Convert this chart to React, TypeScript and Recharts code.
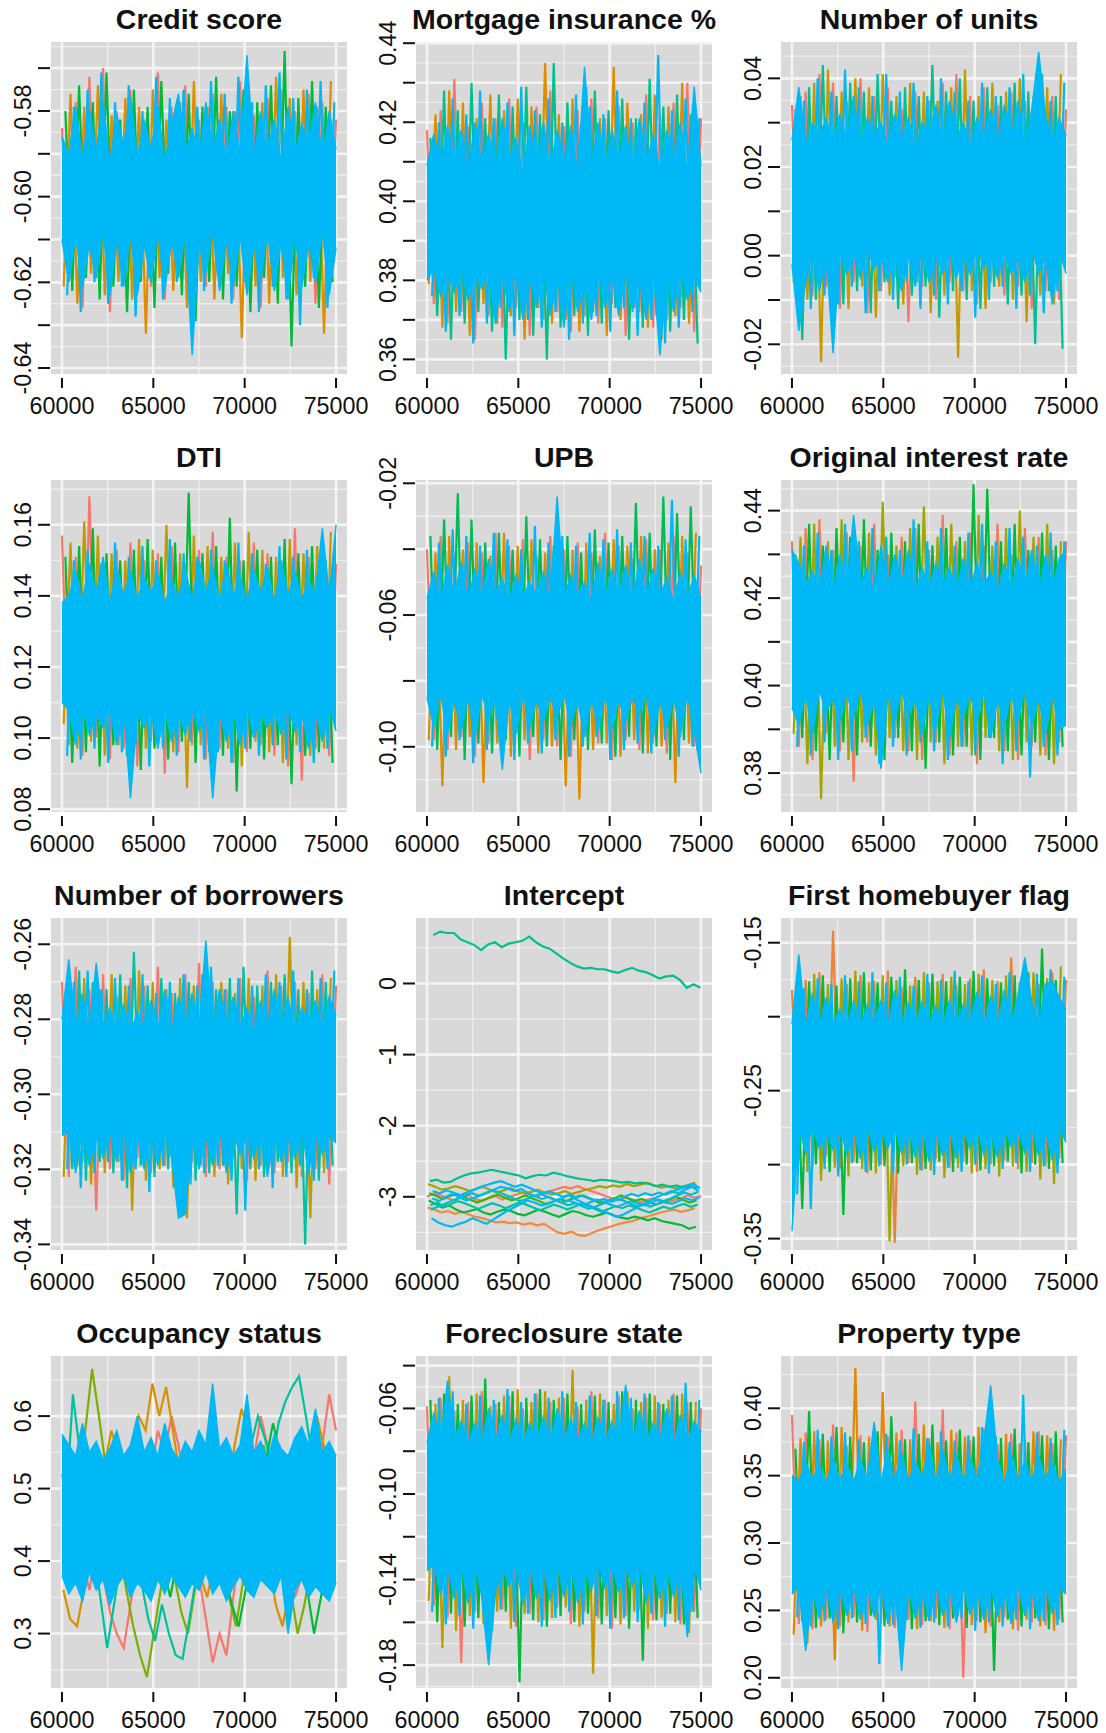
import { ComposedChart, Line, Area, XAxis, YAxis, CartesianGrid } from "recharts";

// thinned MCMC draws, every 375 iterations
const iterations = Array.from({ length: 41 }, (_, i) => 60000 + i * 375);
const xTicks = [60000, 65000, 70000, 75000];
const xGrid = [60000, 62500, 65000, 67500, 70000, 72500, 75000];

// ---- Credit score
const creditHi = [-0.586,-0.590,-0.579,-0.591,-0.580,-0.589,-0.578,-0.592,-0.581,-0.588,-0.577,-0.591,-0.582,-0.589,-0.579,-0.592,-0.583,-0.576,-0.590,-0.584,-0.591,-0.578,-0.589,-0.582,-0.592,-0.580,-0.590,-0.567,-0.591,-0.580,-0.589,-0.582,-0.592,-0.579,-0.590,-0.583,-0.588,-0.578,-0.591,-0.580,-0.589];
const creditLo = [-0.610,-0.620,-0.609,-0.621,-0.611,-0.619,-0.608,-0.623,-0.610,-0.621,-0.609,-0.623,-0.611,-0.620,-0.608,-0.622,-0.610,-0.619,-0.609,-0.637,-0.611,-0.618,-0.608,-0.622,-0.610,-0.621,-0.609,-0.623,-0.611,-0.620,-0.608,-0.622,-0.610,-0.624,-0.609,-0.621,-0.611,-0.620,-0.608,-0.623,-0.612];
const creditA = [-0.584,-0.620,-0.578,-0.626,-0.572,-0.619,-0.570,-0.627,-0.580,-0.618,-0.575,-0.622,-0.583,-0.621,-0.571,-0.624,-0.579,-0.618,-0.574,-0.628,-0.582,-0.621,-0.576,-0.619,-0.579,-0.624,-0.573,-0.620,-0.581,-0.626,-0.577,-0.619,-0.575,-0.623,-0.580,-0.618,-0.576,-0.625,-0.578,-0.620,-0.582];
const creditB = [-0.621,-0.576,-0.625,-0.579,-0.618,-0.574,-0.623,-0.581,-0.620,-0.577,-0.624,-0.579,-0.632,-0.575,-0.619,-0.582,-0.622,-0.578,-0.626,-0.573,-0.620,-0.579,-0.624,-0.576,-0.618,-0.580,-0.633,-0.574,-0.621,-0.578,-0.625,-0.572,-0.619,-0.577,-0.623,-0.575,-0.620,-0.579,-0.632,-0.573,-0.618];
const creditC = [-0.580,-0.622,-0.574,-0.619,-0.578,-0.624,-0.571,-0.621,-0.582,-0.627,-0.575,-0.620,-0.579,-0.626,-0.573,-0.618,-0.581,-0.623,-0.576,-0.629,-0.579,-0.620,-0.572,-0.624,-0.580,-0.621,-0.575,-0.627,-0.578,-0.619,-0.574,-0.625,-0.566,-0.635,-0.577,-0.621,-0.573,-0.626,-0.579,-0.620,-0.575];
const creditD = [-0.623,-0.579,-0.627,-0.575,-0.620,-0.571,-0.625,-0.578,-0.621,-0.574,-0.628,-0.580,-0.619,-0.572,-0.624,-0.577,-0.620,-0.575,-0.626,-0.579,-0.622,-0.573,-0.618,-0.576,-0.625,-0.572,-0.620,-0.578,-0.627,-0.574,-0.621,-0.571,-0.624,-0.577,-0.630,-0.575,-0.619,-0.573,-0.626,-0.578,-0.621];

// ---- Mortgage insurance %
const mortHi = [0.409,0.417,0.408,0.419,0.410,0.418,0.407,0.420,0.409,0.417,0.408,0.421,0.410,0.416,0.407,0.419,0.409,0.420,0.408,0.418,0.410,0.419,0.407,0.434,0.409,0.420,0.408,0.418,0.410,0.419,0.407,0.421,0.409,0.417,0.408,0.418,0.410,0.420,0.407,0.429,0.409];
const mortLo = [0.380,0.383,0.376,0.382,0.377,0.384,0.375,0.381,0.378,0.383,0.369,0.382,0.372,0.384,0.370,0.381,0.373,0.383,0.371,0.382,0.368,0.384,0.372,0.381,0.370,0.383,0.373,0.382,0.371,0.384,0.372,0.381,0.370,0.383,0.361,0.382,0.372,0.384,0.375,0.381,0.377];
const mortA = [0.418,0.374,0.423,0.369,0.431,0.372,0.419,0.365,0.425,0.371,0.421,0.368,0.426,0.373,0.420,0.366,0.424,0.370,0.428,0.372,0.419,0.367,0.423,0.371,0.426,0.369,0.421,0.374,0.424,0.366,0.420,0.372,0.427,0.368,0.422,0.370,0.425,0.373,0.430,0.367,0.421];
const mortB = [0.379,0.422,0.368,0.428,0.372,0.425,0.366,0.421,0.374,0.427,0.369,0.423,0.371,0.426,0.365,0.424,0.373,0.435,0.369,0.422,0.370,0.426,0.367,0.429,0.372,0.421,0.366,0.434,0.370,0.425,0.373,0.422,0.368,0.427,0.365,0.424,0.371,0.430,0.369,0.423,0.372];
const mortC = [0.416,0.371,0.428,0.365,0.423,0.369,0.430,0.372,0.421,0.367,0.427,0.360,0.424,0.370,0.429,0.366,0.422,0.360,0.435,0.368,0.425,0.371,0.420,0.366,0.428,0.369,0.423,0.373,0.426,0.365,0.421,0.368,0.431,0.371,0.424,0.367,0.427,0.370,0.422,0.364,0.420];
const mortD = [0.376,0.420,0.367,0.426,0.371,0.422,0.364,0.428,0.369,0.421,0.373,0.425,0.366,0.429,0.370,0.423,0.368,0.426,0.372,0.420,0.365,0.427,0.369,0.424,0.371,0.422,0.367,0.428,0.373,0.421,0.366,0.425,0.370,0.437,0.364,0.423,0.368,0.426,0.372,0.421,0.369];

// ---- Number of units
const unitsHi = [0.026,0.038,0.025,0.030,0.027,0.031,0.025,0.032,0.026,0.036,0.024,0.031,0.027,0.030,0.025,0.032,0.026,0.031,0.024,0.030,0.027,0.034,0.025,0.035,0.026,0.030,0.024,0.031,0.027,0.033,0.025,0.034,0.026,0.035,0.024,0.033,0.046,0.032,0.025,0.031,0.027];
const unitsLo = [-0.002,-0.017,-0.006,0.001,-0.008,0.000,-0.022,0.001,-0.004,0.000,-0.005,0.002,-0.003,0.000,-0.006,0.001,-0.008,0.000,-0.007,0.002,-0.006,0.000,-0.004,0.001,-0.005,0.000,-0.004,0.002,-0.003,0.000,-0.005,0.001,-0.004,0.000,-0.006,0.002,-0.004,0.000,-0.011,0.001,-0.004];
const unitsA = [0.034,-0.004,0.037,-0.009,0.041,-0.007,0.039,-0.012,0.035,-0.006,0.040,-0.013,0.036,-0.008,0.038,-0.005,0.033,-0.015,0.037,-0.007,0.035,-0.010,0.039,-0.006,0.041,-0.008,0.036,-0.011,0.038,-0.006,0.034,-0.009,0.037,-0.007,0.035,-0.012,0.039,-0.008,0.036,-0.010,0.033];
const unitsB = [-0.006,0.036,-0.010,0.039,-0.024,0.042,-0.008,0.037,-0.012,0.040,-0.007,0.038,-0.014,0.041,-0.009,0.036,-0.011,0.039,-0.006,0.037,-0.013,0.035,-0.009,0.038,-0.023,0.042,-0.008,0.036,-0.012,0.039,-0.007,0.037,-0.010,0.040,-0.015,0.036,-0.009,0.038,-0.011,0.041,-0.006];
const unitsC = [0.033,-0.019,0.038,-0.010,0.043,-0.007,0.036,-0.011,0.039,-0.008,0.037,-0.013,0.041,-0.006,0.035,-0.012,0.038,-0.009,0.036,-0.007,0.043,-0.014,0.037,-0.008,0.040,-0.010,0.035,-0.012,0.038,-0.007,0.036,-0.011,0.039,-0.009,0.037,-0.020,0.041,-0.008,0.036,-0.021,0.034];
const unitsD = [-0.008,0.035,-0.012,0.040,-0.009,0.037,-0.011,0.042,-0.007,0.038,-0.013,0.036,-0.008,0.041,-0.010,0.037,-0.006,0.039,-0.012,0.036,-0.009,0.040,-0.011,0.037,-0.008,0.035,-0.014,0.039,-0.010,0.036,-0.007,0.038,-0.012,0.041,-0.009,0.037,-0.013,0.035,-0.008,0.039,-0.006];

// ---- DTI
const dtiHi = [0.138,0.140,0.147,0.139,0.149,0.141,0.151,0.138,0.148,0.140,0.147,0.139,0.145,0.141,0.146,0.138,0.144,0.140,0.147,0.139,0.150,0.141,0.148,0.138,0.149,0.140,0.145,0.139,0.147,0.141,0.148,0.138,0.150,0.140,0.147,0.139,0.144,0.141,0.159,0.140,0.160];
const dtiLo = [0.110,0.108,0.098,0.109,0.101,0.107,0.103,0.108,0.098,0.109,0.083,0.107,0.103,0.108,0.097,0.109,0.099,0.107,0.101,0.108,0.102,0.109,0.083,0.107,0.099,0.108,0.098,0.109,0.100,0.107,0.103,0.108,0.101,0.109,0.102,0.107,0.097,0.108,0.099,0.109,0.102];
const dtiA = [0.157,0.098,0.151,0.095,0.168,0.100,0.149,0.094,0.153,0.097,0.155,0.092,0.150,0.099,0.152,0.090,0.154,0.096,0.149,0.098,0.153,0.094,0.158,0.097,0.151,0.093,0.150,0.096,0.155,0.098,0.152,0.095,0.150,0.092,0.159,0.088,0.151,0.097,0.153,0.095,0.149];
const dtiB = [0.104,0.155,0.097,0.161,0.099,0.157,0.095,0.152,0.098,0.150,0.093,0.156,0.097,0.153,0.100,0.160,0.096,0.152,0.086,0.157,0.098,0.154,0.094,0.151,0.097,0.155,0.092,0.158,0.099,0.153,0.096,0.151,0.093,0.156,0.098,0.152,0.095,0.154,0.097,0.158,0.101];
const dtiC = [0.151,0.093,0.154,0.096,0.159,0.092,0.152,0.098,0.150,0.095,0.153,0.091,0.156,0.097,0.151,0.094,0.155,0.099,0.169,0.093,0.152,0.096,0.154,0.095,0.162,0.085,0.150,0.097,0.153,0.094,0.151,0.098,0.156,0.087,0.152,0.095,0.154,0.096,0.150,0.093,0.153];
const dtiD = [0.095,0.150,0.094,0.153,0.097,0.149,0.093,0.155,0.096,0.151,0.098,0.154,0.092,0.150,0.097,0.156,0.095,0.152,0.099,0.151,0.094,0.153,0.096,0.150,0.093,0.155,0.097,0.152,0.095,0.149,0.098,0.154,0.094,0.151,0.096,0.153,0.093,0.150,0.097,0.152,0.085];

// ---- UPB
const upbHi = [-0.055,-0.047,-0.056,-0.045,-0.054,-0.044,-0.056,-0.046,-0.055,-0.043,-0.054,-0.049,-0.056,-0.048,-0.055,-0.050,-0.054,-0.047,-0.056,-0.024,-0.055,-0.048,-0.054,-0.050,-0.056,-0.044,-0.055,-0.046,-0.054,-0.045,-0.056,-0.043,-0.055,-0.046,-0.054,-0.049,-0.056,-0.047,-0.055,-0.048,-0.055];
const upbLo = [-0.085,-0.094,-0.084,-0.096,-0.086,-0.095,-0.085,-0.097,-0.084,-0.091,-0.086,-0.107,-0.085,-0.096,-0.084,-0.094,-0.086,-0.092,-0.085,-0.091,-0.084,-0.093,-0.086,-0.097,-0.085,-0.095,-0.084,-0.094,-0.086,-0.092,-0.085,-0.090,-0.084,-0.097,-0.086,-0.094,-0.085,-0.096,-0.084,-0.095,-0.108];
const upbA = [-0.040,-0.098,-0.036,-0.101,-0.042,-0.097,-0.038,-0.103,-0.041,-0.099,-0.035,-0.102,-0.039,-0.096,-0.037,-0.104,-0.042,-0.098,-0.036,-0.100,-0.040,-0.103,-0.038,-0.097,-0.041,-0.099,-0.035,-0.104,-0.039,-0.098,-0.043,-0.101,-0.037,-0.099,-0.040,-0.102,-0.036,-0.097,-0.041,-0.100,-0.045];
const upbB = [-0.098,-0.041,-0.112,-0.036,-0.101,-0.040,-0.097,-0.038,-0.111,-0.042,-0.099,-0.035,-0.103,-0.039,-0.098,-0.037,-0.102,-0.041,-0.100,-0.036,-0.112,-0.040,-0.116,-0.038,-0.101,-0.042,-0.099,-0.037,-0.103,-0.039,-0.098,-0.036,-0.102,-0.040,-0.100,-0.038,-0.111,-0.036,-0.099,-0.035,-0.097];
const upbC = [-0.036,-0.101,-0.031,-0.097,-0.023,-0.104,-0.031,-0.099,-0.038,-0.102,-0.035,-0.098,-0.040,-0.103,-0.030,-0.097,-0.037,-0.100,-0.039,-0.104,-0.036,-0.098,-0.041,-0.101,-0.034,-0.099,-0.038,-0.103,-0.036,-0.097,-0.026,-0.102,-0.035,-0.100,-0.024,-0.104,-0.029,-0.098,-0.027,-0.101,-0.040];
const upbD = [-0.100,-0.038,-0.103,-0.034,-0.098,-0.036,-0.105,-0.039,-0.101,-0.035,-0.097,-0.037,-0.104,-0.040,-0.099,-0.033,-0.102,-0.038,-0.098,-0.036,-0.103,-0.039,-0.100,-0.035,-0.097,-0.037,-0.104,-0.034,-0.101,-0.038,-0.099,-0.036,-0.102,-0.039,-0.098,-0.025,-0.103,-0.037,-0.100,-0.036,-0.097];

// ---- Original interest rate
const rateHi = [0.431,0.428,0.423,0.426,0.422,0.432,0.421,0.430,0.422,0.439,0.423,0.427,0.421,0.432,0.422,0.430,0.423,0.431,0.421,0.427,0.422,0.428,0.423,0.427,0.421,0.429,0.422,0.428,0.423,0.426,0.421,0.428,0.422,0.429,0.423,0.431,0.421,0.430,0.422,0.429,0.431];
const rateLo = [0.395,0.391,0.398,0.389,0.399,0.394,0.397,0.392,0.398,0.393,0.399,0.391,0.397,0.381,0.398,0.392,0.399,0.393,0.397,0.389,0.398,0.390,0.399,0.388,0.397,0.393,0.398,0.392,0.399,0.388,0.397,0.391,0.398,0.392,0.399,0.391,0.397,0.389,0.398,0.390,0.391];
const rateA = [0.433,0.386,0.436,0.383,0.438,0.389,0.431,0.385,0.435,0.378,0.432,0.387,0.437,0.384,0.430,0.388,0.434,0.385,0.436,0.383,0.431,0.387,0.439,0.384,0.433,0.386,0.435,0.382,0.432,0.388,0.437,0.385,0.430,0.383,0.436,0.386,0.434,0.384,0.431,0.387,0.433];
const rateB = [0.389,0.434,0.382,0.437,0.374,0.433,0.386,0.438,0.383,0.431,0.387,0.435,0.384,0.442,0.388,0.432,0.385,0.436,0.383,0.441,0.387,0.434,0.382,0.437,0.386,0.433,0.384,0.439,0.388,0.432,0.385,0.436,0.383,0.440,0.387,0.434,0.384,0.437,0.382,0.433,0.389];
const rateC = [0.430,0.388,0.437,0.385,0.432,0.383,0.436,0.387,0.434,0.384,0.438,0.386,0.431,0.383,0.435,0.388,0.433,0.385,0.437,0.381,0.432,0.387,0.436,0.384,0.434,0.386,0.446,0.383,0.445,0.388,0.433,0.385,0.437,0.384,0.431,0.387,0.435,0.383,0.432,0.386,0.430];
const rateD = [0.386,0.432,0.384,0.435,0.387,0.431,0.383,0.437,0.385,0.433,0.388,0.436,0.382,0.434,0.386,0.431,0.384,0.438,0.387,0.433,0.385,0.436,0.383,0.432,0.386,0.435,0.384,0.437,0.388,0.433,0.382,0.436,0.385,0.434,0.379,0.432,0.386,0.435,0.384,0.433,0.387];

// ---- Number of borrowers
const borrHi = [-0.280,-0.264,-0.283,-0.273,-0.284,-0.265,-0.282,-0.277,-0.283,-0.276,-0.284,-0.278,-0.282,-0.275,-0.283,-0.272,-0.284,-0.274,-0.282,-0.273,-0.283,-0.259,-0.284,-0.272,-0.282,-0.274,-0.283,-0.277,-0.284,-0.275,-0.282,-0.272,-0.283,-0.274,-0.284,-0.277,-0.282,-0.275,-0.283,-0.274,-0.279];
const borrLo = [-0.311,-0.310,-0.321,-0.309,-0.319,-0.311,-0.317,-0.310,-0.318,-0.309,-0.321,-0.311,-0.320,-0.310,-0.319,-0.309,-0.317,-0.333,-0.332,-0.310,-0.320,-0.311,-0.319,-0.309,-0.321,-0.310,-0.316,-0.311,-0.317,-0.309,-0.322,-0.310,-0.318,-0.311,-0.317,-0.309,-0.321,-0.310,-0.316,-0.311,-0.313];
const borrA = [-0.270,-0.322,-0.266,-0.318,-0.272,-0.331,-0.268,-0.320,-0.274,-0.323,-0.269,-0.317,-0.271,-0.321,-0.266,-0.319,-0.273,-0.324,-0.268,-0.318,-0.265,-0.322,-0.270,-0.320,-0.272,-0.317,-0.269,-0.323,-0.274,-0.319,-0.267,-0.321,-0.271,-0.318,-0.270,-0.322,-0.273,-0.320,-0.268,-0.324,-0.271];
const borrB = [-0.322,-0.272,-0.319,-0.269,-0.324,-0.273,-0.321,-0.268,-0.318,-0.271,-0.331,-0.267,-0.323,-0.270,-0.320,-0.272,-0.325,-0.269,-0.333,-0.271,-0.319,-0.268,-0.322,-0.270,-0.324,-0.273,-0.320,-0.269,-0.323,-0.271,-0.319,-0.268,-0.322,-0.258,-0.325,-0.270,-0.333,-0.272,-0.321,-0.269,-0.320];
const borrC = [-0.274,-0.320,-0.267,-0.323,-0.270,-0.318,-0.272,-0.321,-0.268,-0.325,-0.262,-0.319,-0.271,-0.322,-0.269,-0.320,-0.273,-0.318,-0.270,-0.323,-0.268,-0.321,-0.272,-0.319,-0.269,-0.332,-0.266,-0.320,-0.271,-0.322,-0.270,-0.318,-0.268,-0.321,-0.272,-0.340,-0.267,-0.323,-0.270,-0.319,-0.266];
const borrD = [-0.320,-0.270,-0.325,-0.267,-0.321,-0.272,-0.318,-0.269,-0.323,-0.271,-0.320,-0.268,-0.326,-0.273,-0.319,-0.270,-0.322,-0.268,-0.324,-0.271,-0.321,-0.266,-0.319,-0.272,-0.323,-0.269,-0.331,-0.271,-0.320,-0.268,-0.325,-0.270,-0.322,-0.267,-0.319,-0.272,-0.323,-0.269,-0.320,-0.267,-0.324];

// ---- Intercept (one chain stuck high, the rest around -3)
const icptStuck = [0.68,0.73,0.71,0.71,0.62,0.58,0.54,0.47,0.55,0.58,0.51,0.56,0.58,0.60,0.66,0.58,0.52,0.49,0.42,0.35,0.29,0.24,0.21,0.22,0.20,0.20,0.17,0.15,0.19,0.22,0.18,0.16,0.12,0.07,0.10,0.11,0.05,-0.06,-0.01,-0.06,-0.01];
const icptSalmon = [-3.00,-2.96,-2.98,-3.02,-3.05,-3.01,-2.98,-3.03,-3.06,-3.02,-2.99,-3.04,-3.00,-2.97,-2.94,-2.97,-3.00,-2.96,-2.92,-2.89,-2.86,-2.88,-2.85,-2.89,-2.92,-2.95,-2.99,-3.02,-3.05,-3.01,-3.04,-3.08,-3.05,-3.02,-3.06,-3.09,-3.05,-3.02,-2.98,-3.01,-2.99];
const icptOrange = [-3.15,-3.18,-3.22,-3.20,-3.24,-3.21,-3.25,-3.28,-3.30,-3.33,-3.36,-3.35,-3.37,-3.36,-3.39,-3.37,-3.40,-3.38,-3.44,-3.50,-3.52,-3.49,-3.54,-3.55,-3.51,-3.47,-3.44,-3.41,-3.38,-3.36,-3.34,-3.30,-3.28,-3.25,-3.22,-3.20,-3.18,-3.21,-3.19,-3.16,-3.18];
const icptOlive = [-2.82,-2.86,-2.90,-2.88,-2.85,-2.88,-2.92,-2.89,-2.86,-2.90,-2.94,-2.91,-2.88,-2.92,-2.95,-2.93,-2.90,-2.94,-2.97,-2.95,-2.92,-2.96,-2.93,-2.90,-2.88,-2.85,-2.87,-2.84,-2.86,-2.82,-2.85,-2.83,-2.80,-2.84,-2.87,-2.85,-2.88,-2.86,-2.83,-2.80,-2.78];
const icptGreenLow = [-3.05,-3.10,-3.15,-3.12,-3.18,-3.22,-3.20,-3.17,-3.22,-3.25,-3.21,-3.18,-3.20,-3.24,-3.26,-3.22,-3.18,-3.21,-3.25,-3.28,-3.24,-3.20,-3.22,-3.26,-3.28,-3.25,-3.22,-3.26,-3.29,-3.31,-3.28,-3.30,-3.33,-3.30,-3.34,-3.36,-3.38,-3.40,-3.45,-3.42,-3.46];
const icptGreen = [-2.95,-2.99,-3.03,-2.99,-2.96,-3.00,-3.04,-3.08,-3.04,-3.00,-2.97,-3.01,-3.05,-3.02,-2.98,-3.02,-3.06,-3.10,-3.07,-3.03,-3.06,-3.02,-2.98,-3.01,-3.05,-3.09,-3.06,-3.02,-2.98,-3.02,-3.06,-3.03,-3.07,-3.11,-3.08,-3.04,-3.00,-3.04,-3.08,-3.05,-3.01];
const icptGreenTop = [-2.78,-2.76,-2.80,-2.79,-2.74,-2.70,-2.67,-2.66,-2.64,-2.62,-2.64,-2.66,-2.68,-2.70,-2.74,-2.71,-2.69,-2.70,-2.66,-2.68,-2.71,-2.73,-2.75,-2.76,-2.78,-2.76,-2.77,-2.78,-2.80,-2.79,-2.81,-2.80,-2.82,-2.85,-2.83,-2.86,-2.84,-2.87,-2.85,-2.88,-2.86];
const icptTeal = [-3.12,-3.08,-3.14,-3.10,-3.06,-3.09,-3.13,-3.17,-3.13,-3.09,-3.12,-3.16,-3.12,-3.08,-3.11,-3.15,-3.19,-3.15,-3.11,-3.14,-3.18,-3.14,-3.10,-3.13,-3.17,-3.21,-3.17,-3.13,-3.16,-3.12,-3.15,-3.19,-3.22,-3.18,-3.14,-3.17,-3.13,-3.10,-3.14,-3.11,-3.08];
const icptCyan = [-3.18,-3.14,-3.10,-3.06,-3.02,-2.98,-2.95,-2.99,-2.95,-2.91,-2.94,-2.98,-3.02,-3.06,-3.03,-2.99,-2.96,-3.00,-3.04,-3.08,-3.12,-3.09,-3.13,-3.17,-3.14,-3.10,-3.06,-3.02,-3.05,-3.09,-3.13,-3.10,-3.14,-3.10,-3.06,-3.02,-2.98,-2.94,-2.97,-2.93,-2.96];
const icptBlueLow = [-3.30,-3.36,-3.40,-3.42,-3.38,-3.35,-3.30,-3.34,-3.38,-3.32,-3.26,-3.20,-3.15,-3.10,-3.05,-3.08,-3.12,-3.10,-3.06,-3.02,-2.98,-3.03,-3.08,-3.12,-3.16,-3.20,-3.24,-3.28,-3.25,-3.20,-3.15,-3.10,-3.05,-3.00,-2.96,-2.92,-2.95,-2.90,-2.86,-2.92,-2.97];
const icptBlue = [-3.02,-3.06,-3.00,-2.96,-3.01,-3.05,-3.02,-2.98,-2.94,-2.90,-2.86,-2.88,-2.92,-2.89,-2.95,-2.99,-3.03,-3.00,-3.04,-3.08,-3.05,-3.09,-3.12,-3.08,-3.04,-3.07,-3.11,-3.14,-3.10,-3.06,-3.09,-3.12,-3.08,-3.04,-3.07,-3.10,-3.06,-3.02,-3.05,-3.01,-3.03];
const icptBlueTop = [-2.92,-2.95,-2.91,-2.94,-2.98,-2.94,-2.90,-2.86,-2.83,-2.80,-2.78,-2.82,-2.86,-2.83,-2.87,-2.91,-2.95,-2.92,-2.96,-3.00,-2.97,-3.01,-2.98,-3.02,-3.06,-3.03,-3.07,-3.04,-3.00,-2.96,-2.99,-2.95,-2.98,-2.94,-2.97,-2.93,-2.89,-2.85,-2.82,-2.88,-2.92];

// ---- First homebuyer flag
const fhbHi = [-0.205,-0.158,-0.206,-0.184,-0.207,-0.187,-0.205,-0.195,-0.206,-0.190,-0.207,-0.192,-0.205,-0.189,-0.206,-0.182,-0.207,-0.191,-0.205,-0.190,-0.206,-0.193,-0.207,-0.189,-0.205,-0.192,-0.206,-0.183,-0.207,-0.186,-0.205,-0.182,-0.206,-0.185,-0.160,-0.190,-0.207,-0.178,-0.176,-0.187,-0.195];
const fhbLo = [-0.345,-0.276,-0.292,-0.274,-0.289,-0.277,-0.290,-0.275,-0.293,-0.276,-0.296,-0.274,-0.291,-0.277,-0.289,-0.275,-0.292,-0.276,-0.295,-0.274,-0.298,-0.277,-0.294,-0.275,-0.296,-0.276,-0.289,-0.274,-0.293,-0.277,-0.295,-0.275,-0.288,-0.276,-0.292,-0.274,-0.294,-0.277,-0.297,-0.275,-0.285];
const fhbA = [-0.182,-0.297,-0.175,-0.301,-0.170,-0.294,-0.142,-0.303,-0.178,-0.298,-0.172,-0.306,-0.176,-0.300,-0.169,-0.353,-0.180,-0.299,-0.173,-0.304,-0.177,-0.296,-0.171,-0.302,-0.179,-0.298,-0.174,-0.305,-0.168,-0.300,-0.176,-0.297,-0.160,-0.303,-0.172,-0.299,-0.178,-0.301,-0.170,-0.296,-0.175];
const fhbB = [-0.300,-0.176,-0.305,-0.171,-0.311,-0.178,-0.302,-0.174,-0.308,-0.169,-0.303,-0.177,-0.306,-0.172,-0.352,-0.175,-0.301,-0.179,-0.307,-0.170,-0.304,-0.176,-0.309,-0.173,-0.302,-0.178,-0.306,-0.171,-0.303,-0.175,-0.308,-0.172,-0.301,-0.177,-0.305,-0.170,-0.310,-0.174,-0.313,-0.166,-0.300];
const fhbC = [-0.190,-0.330,-0.176,-0.300,-0.172,-0.305,-0.179,-0.334,-0.174,-0.299,-0.170,-0.304,-0.177,-0.301,-0.173,-0.306,-0.168,-0.299,-0.175,-0.303,-0.171,-0.298,-0.176,-0.305,-0.173,-0.300,-0.169,-0.304,-0.174,-0.301,-0.177,-0.298,-0.172,-0.306,-0.170,-0.300,-0.154,-0.303,-0.175,-0.299,-0.178];
const fhbD = [-0.320,-0.181,-0.330,-0.174,-0.303,-0.178,-0.308,-0.172,-0.299,-0.176,-0.305,-0.170,-0.301,-0.177,-0.306,-0.173,-0.300,-0.179,-0.304,-0.171,-0.307,-0.175,-0.302,-0.169,-0.305,-0.176,-0.300,-0.172,-0.306,-0.178,-0.303,-0.170,-0.299,-0.174,-0.305,-0.171,-0.301,-0.168,-0.306,-0.173,-0.302];

// ---- Occupancy status (slower mixing)
const occHi = [0.575,0.560,0.545,0.590,0.550,0.565,0.540,0.555,0.580,0.545,0.560,0.600,0.550,0.570,0.545,0.590,0.555,0.540,0.565,0.550,0.580,0.560,0.645,0.555,0.570,0.545,0.560,0.630,0.550,0.565,0.540,0.575,0.555,0.545,0.570,0.585,0.560,0.610,0.550,0.565,0.545];
const occLo = [0.380,0.355,0.370,0.345,0.385,0.360,0.375,0.340,0.365,0.380,0.350,0.370,0.360,0.345,0.375,0.355,0.380,0.365,0.350,0.370,0.360,0.385,0.355,0.370,0.345,0.365,0.380,0.360,0.350,0.375,0.365,0.355,0.380,0.300,0.360,0.375,0.350,0.365,0.355,0.345,0.370];
const occA = [0.52,0.48,0.44,0.40,0.36,0.42,0.38,0.33,0.30,0.28,0.34,0.40,0.46,0.52,0.58,0.55,0.60,0.56,0.50,0.44,0.38,0.32,0.26,0.30,0.27,0.35,0.42,0.48,0.54,0.60,0.56,0.50,0.45,0.40,0.35,0.38,0.44,0.50,0.56,0.63,0.58];
const occB = [0.36,0.32,0.31,0.36,0.42,0.48,0.53,0.58,0.55,0.50,0.56,0.60,0.58,0.645,0.60,0.64,0.58,0.52,0.47,0.42,0.38,0.35,0.40,0.45,0.50,0.56,0.61,0.58,0.52,0.46,0.40,0.34,0.31,0.36,0.42,0.48,0.55,0.60,0.56,0.50,0.34];
const occC = [0.40,0.45,0.52,0.58,0.665,0.60,0.53,0.47,0.41,0.36,0.31,0.27,0.24,0.30,0.36,0.42,0.38,0.33,0.30,0.36,0.43,0.50,0.46,0.40,0.35,0.31,0.37,0.44,0.50,0.56,0.52,0.47,0.42,0.36,0.30,0.34,0.40,0.46,0.52,0.55,0.58];
const occD = [0.48,0.63,0.55,0.48,0.42,0.35,0.28,0.34,0.40,0.46,0.42,0.37,0.32,0.29,0.34,0.30,0.27,0.265,0.32,0.38,0.44,0.40,0.46,0.52,0.48,0.54,0.50,0.56,0.60,0.57,0.53,0.59,0.62,0.64,0.655,0.60,0.54,0.48,0.42,0.36,0.40];
const occE = [0.55,0.50,0.58,0.52,0.46,0.40,0.35,0.41,0.47,0.53,0.58,0.54,0.49,0.44,0.39,0.35,0.40,0.46,0.52,0.57,0.53,0.48,0.43,0.38,0.34,0.31,0.36,0.42,0.48,0.54,0.59,0.55,0.50,0.45,0.40,0.36,0.30,0.35,0.41,0.47,0.53];

// ---- Foreclosure state
const forHi = [-0.076,-0.062,-0.077,-0.047,-0.075,-0.066,-0.077,-0.067,-0.076,-0.060,-0.075,-0.063,-0.077,-0.065,-0.076,-0.067,-0.075,-0.064,-0.077,-0.060,-0.076,-0.065,-0.075,-0.067,-0.077,-0.064,-0.076,-0.066,-0.075,-0.049,-0.077,-0.061,-0.076,-0.067,-0.075,-0.060,-0.077,-0.063,-0.076,-0.066,-0.071];
const forLo = [-0.136,-0.133,-0.147,-0.134,-0.149,-0.132,-0.151,-0.133,-0.148,-0.180,-0.146,-0.134,-0.143,-0.132,-0.152,-0.133,-0.149,-0.134,-0.150,-0.132,-0.148,-0.133,-0.151,-0.134,-0.145,-0.132,-0.144,-0.133,-0.146,-0.134,-0.143,-0.132,-0.151,-0.133,-0.149,-0.134,-0.148,-0.132,-0.167,-0.133,-0.145];
const forA = [-0.059,-0.152,-0.055,-0.158,-0.061,-0.179,-0.057,-0.155,-0.052,-0.160,-0.058,-0.154,-0.054,-0.162,-0.060,-0.156,-0.053,-0.159,-0.057,-0.153,-0.055,-0.161,-0.059,-0.155,-0.052,-0.158,-0.056,-0.163,-0.054,-0.157,-0.060,-0.154,-0.055,-0.159,-0.058,-0.156,-0.053,-0.161,-0.057,-0.155,-0.060];
const forB = [-0.150,-0.058,-0.172,-0.045,-0.164,-0.056,-0.157,-0.053,-0.161,-0.059,-0.155,-0.054,-0.163,-0.051,-0.156,-0.057,-0.160,-0.052,-0.158,-0.055,-0.153,-0.042,-0.162,-0.056,-0.184,-0.053,-0.157,-0.058,-0.161,-0.052,-0.155,-0.057,-0.163,-0.054,-0.158,-0.056,-0.160,-0.053,-0.165,-0.057,-0.159];
const forC = [-0.056,-0.160,-0.053,-0.156,-0.058,-0.162,-0.054,-0.158,-0.046,-0.164,-0.057,-0.155,-0.052,-0.188,-0.055,-0.159,-0.051,-0.162,-0.056,-0.157,-0.053,-0.160,-0.058,-0.156,-0.054,-0.161,-0.057,-0.158,-0.052,-0.163,-0.056,-0.178,-0.053,-0.159,-0.058,-0.156,-0.054,-0.161,-0.057,-0.158,-0.062];
const forD = [-0.155,-0.055,-0.161,-0.052,-0.157,-0.058,-0.163,-0.054,-0.159,-0.056,-0.154,-0.051,-0.160,-0.057,-0.156,-0.053,-0.162,-0.055,-0.158,-0.052,-0.155,-0.057,-0.161,-0.054,-0.157,-0.056,-0.163,-0.052,-0.158,-0.055,-0.160,-0.053,-0.156,-0.057,-0.162,-0.054,-0.159,-0.048,-0.155,-0.056,-0.152];

// ---- Property type
const propHi = [0.350,0.346,0.360,0.348,0.357,0.345,0.362,0.347,0.358,0.346,0.361,0.348,0.390,0.345,0.370,0.347,0.366,0.346,0.360,0.348,0.374,0.345,0.369,0.347,0.365,0.346,0.363,0.348,0.375,0.417,0.362,0.345,0.366,0.347,0.361,0.346,0.364,0.348,0.359,0.345,0.355];
const propLo = [0.262,0.268,0.220,0.266,0.244,0.269,0.241,0.267,0.246,0.268,0.243,0.266,0.245,0.269,0.240,0.267,0.205,0.268,0.244,0.266,0.242,0.269,0.246,0.267,0.241,0.268,0.247,0.266,0.243,0.269,0.245,0.267,0.240,0.268,0.246,0.266,0.242,0.269,0.247,0.267,0.262];
const propA = [0.395,0.240,0.382,0.236,0.377,0.243,0.388,0.238,0.372,0.245,0.380,0.234,0.375,0.241,0.379,0.237,0.384,0.243,0.405,0.239,0.378,0.244,0.399,0.236,0.382,0.200,0.376,0.242,0.385,0.238,0.373,0.245,0.381,0.235,0.377,0.241,0.383,0.239,0.374,0.243,0.380];
const propB = [0.232,0.378,0.225,0.383,0.238,0.376,0.213,0.386,0.241,0.430,0.235,0.379,0.243,0.412,0.238,0.382,0.244,0.377,0.236,0.388,0.242,0.375,0.237,0.384,0.246,0.379,0.239,0.386,0.233,0.376,0.241,0.381,0.236,0.374,0.243,0.383,0.238,0.380,0.235,0.377,0.240];
const propC = [0.370,0.242,0.398,0.237,0.381,0.244,0.386,0.233,0.379,0.241,0.375,0.246,0.383,0.238,0.394,0.243,0.377,0.236,0.381,0.242,0.388,0.239,0.376,0.244,0.384,0.237,0.379,0.241,0.382,0.205,0.378,0.243,0.385,0.238,0.375,0.244,0.380,0.236,0.383,0.241,0.377];
const propD = [0.245,0.375,0.238,0.384,0.242,0.379,0.236,0.382,0.244,0.377,0.240,0.373,0.210,0.381,0.239,0.376,0.243,0.385,0.237,0.378,0.241,0.383,0.238,0.376,0.244,0.380,0.235,0.386,0.241,0.379,0.238,0.375,0.243,0.410,0.236,0.382,0.242,0.378,0.239,0.384,0.408];

const BLUE = "#00B8F5";
const FONT = "'Liberation Sans', Arial, Helvetica, sans-serif";
const INK = "#111";

type Panel = {
  title: string;
  domain: [number, number];
  ticks: number[];
  labels: number[];
  digits: number;
  hi?: number[];
  lo?: number[];
  chains: number[][];
  colors: string[];
  over: number; // how many of the last chains are drawn above the dense band
};

const panels: Panel[] = [
  { title: "Credit score", domain: [-0.6414, -0.5639], ticks: [-0.64, -0.63, -0.62, -0.61, -0.6, -0.59, -0.58, -0.57], labels: [-0.64, -0.62, -0.6, -0.58], digits: 2,
    hi: creditHi, lo: creditLo, chains: [creditA, creditB, creditC, creditD], colors: ["#F8766D", "#DE8C00", "#00BA38", BLUE], over: 1 },
  { title: "Mortgage insurance %", domain: [0.3563, 0.4403], ticks: [0.36, 0.37, 0.38, 0.39, 0.4, 0.41, 0.42, 0.43, 0.44], labels: [0.36, 0.38, 0.4, 0.42, 0.44], digits: 2,
    hi: mortHi, lo: mortLo, chains: [mortA, mortB, mortC, mortD], colors: ["#F8766D", "#DE8C00", "#00C08B", BLUE], over: 1 },
  { title: "Number of units", domain: [-0.0267, 0.0482], ticks: [-0.02, -0.01, 0, 0.01, 0.02, 0.03, 0.04], labels: [-0.02, 0, 0.02, 0.04], digits: 2,
    hi: unitsHi, lo: unitsLo, chains: [unitsA, unitsB, unitsC, unitsD], colors: ["#F8766D", "#C49A00", "#00C094", BLUE], over: 1 },
  { title: "DTI", domain: [0.0792, 0.1726], ticks: [0.08, 0.1, 0.12, 0.14, 0.16], labels: [0.08, 0.1, 0.12, 0.14, 0.16], digits: 2,
    hi: dtiHi, lo: dtiLo, chains: [dtiA, dtiB, dtiC, dtiD], colors: ["#F8766D", "#C49A00", "#00BA38", BLUE], over: 1 },
  { title: "UPB", domain: [-0.1198, -0.019], ticks: [-0.1, -0.08, -0.06, -0.04, -0.02], labels: [-0.1, -0.06, -0.02], digits: 2,
    hi: upbHi, lo: upbLo, chains: [upbA, upbB, upbC, upbD], colors: ["#F8766D", "#DE8C00", "#00BC56", BLUE], over: 1 },
  { title: "Original interest rate", domain: [0.3711, 0.447], ticks: [0.38, 0.39, 0.4, 0.41, 0.42, 0.43, 0.44], labels: [0.38, 0.4, 0.42, 0.44], digits: 2,
    hi: rateHi, lo: rateLo, chains: [rateA, rateB, rateC, rateD], colors: ["#F37B59", "#A3A500", "#00BA38", BLUE], over: 1 },
  { title: "Number of borrowers", domain: [-0.3415, -0.253], ticks: [-0.34, -0.32, -0.3, -0.28, -0.26], labels: [-0.34, -0.32, -0.3, -0.28, -0.26], digits: 2,
    hi: borrHi, lo: borrLo, chains: [borrA, borrB, borrC, borrD], colors: ["#F8766D", "#C49A00", "#00C1A3", BLUE], over: 1 },
  { title: "Intercept", domain: [-3.748, 0.921], ticks: [-3, -2, -1, 0], labels: [-3, -2, -1, 0], digits: 0,
    chains: [icptSalmon, icptOrange, icptOlive, icptGreenLow, icptGreen, icptGreenTop, icptTeal, icptCyan, icptBlueLow, icptBlue, icptBlueTop, icptStuck],
    colors: ["#F8766D", "#F08A3C", "#A3A500", "#00BA38", "#39B600", "#00C08B", "#00C1A3", "#00BFC4", BLUE, BLUE, BLUE, "#00C08B"], over: 0 },
  { title: "First homebuyer flag", domain: [-0.3577, -0.1333], ticks: [-0.35, -0.3, -0.25, -0.2, -0.15], labels: [-0.35, -0.25, -0.15], digits: 2,
    hi: fhbHi, lo: fhbLo, chains: [fhbA, fhbB, fhbC, fhbD], colors: ["#EC8239", "#A3A500", "#00BA38", BLUE], over: 1 },
  { title: "Occupancy status", domain: [0.2249, 0.6829], ticks: [0.3, 0.4, 0.5, 0.6], labels: [0.3, 0.4, 0.5, 0.6], digits: 1,
    hi: occHi, lo: occLo, chains: [occA, occB, occC, occD, occE], colors: ["#F8766D", "#D89000", "#7CAE00", "#00C19F", "#00BA38"], over: 0 },
  { title: "Foreclosure state", domain: [-0.1907, -0.0355], ticks: [-0.18, -0.16, -0.14, -0.12, -0.1, -0.08, -0.06, -0.04], labels: [-0.18, -0.14, -0.1, -0.06], digits: 2,
    hi: forHi, lo: forLo, chains: [forA, forB, forC, forD], colors: ["#F8766D", "#C49A00", "#00BA38", BLUE], over: 1 },
  { title: "Property type", domain: [0.1924, 0.4388], ticks: [0.2, 0.25, 0.3, 0.35, 0.4], labels: [0.2, 0.25, 0.3, 0.35, 0.4], digits: 2,
    hi: propHi, lo: propLo, chains: [propA, propB, propC, propD], colors: ["#F8766D", "#E58700", "#00BA38", BLUE], over: 1 },
];

// chains are interleaved so their samples don't all land on the same x
function buildRows(p: Panel) {
  const slots = p.chains.length;
  const rows: Record<string, any>[] = [];
  iterations.forEach((it, i) => {
    for (let k = 0; k < slots; k++) {
      const x = it + (k * 375) / slots;
      if (x > 75000) break;
      const row: Record<string, any> = { x };
      row["c" + k] = p.chains[k][i];
      if (k === 0 && p.hi && p.lo) row.band = [p.lo[i], p.hi[i]];
      rows.push(row);
    }
  });
  return rows;
}

function gridValues(lo: number, hi: number, step: number) {
  const out: number[] = [];
  const a = Math.ceil(lo / step - 1e-9);
  const b = Math.floor(hi / step + 1e-9);
  for (let k = a; k <= b; k++) out.push(+(k * step).toFixed(6));
  return out;
}

function renderYTick(props: any, p: Panel) {
  const { y, payload } = props;
  const v = payload.value;
  const show = p.labels.some((l) => Math.abs(l - v) < 1e-9);
  return (
    <g>
      <line x1={38} x2={50} y1={y} y2={y} stroke={INK} strokeWidth={2} />
      {show && (
        <text x={31} y={y} transform={`rotate(-90 31 ${y})`} textAnchor="middle" fontSize={23.3} fontFamily={FONT} fill={INK}>
          {v.toFixed(p.digits)}
        </text>
      )}
    </g>
  );
}

function renderXTick(props: any) {
  const { x, payload } = props;
  return (
    <g>
      <line x1={x} x2={x} y1={378} y2={388} stroke={INK} strokeWidth={2} />
      <text x={x} y={414} textAnchor="middle" fontSize={23.3} fontFamily={FONT} fill={INK}>
        {payload.value}
      </text>
    </g>
  );
}

function chainLine(p: Panel, k: number, z: number) {
  return (
    <Line key={k} type="linear" dataKey={"c" + k} stroke={p.colors[k]} strokeWidth={2.2} dot={false}
      activeDot={false} connectNulls isAnimationActive={false} zIndex={z} />
  );
}

function TracePanel({ p, left, top }: { p: Panel; left: number; top: number }) {
  const rows = buildRows(p);
  const step = Math.abs(p.ticks[1] - p.ticks[0]);
  const majorY = gridValues(p.domain[0], p.domain[1], step);
  const minorY = gridValues(p.domain[0], p.domain[1], step / 2);
  const n = p.chains.length;
  const under = p.chains.map((_, k) => k).filter((k) => k < n - p.over);
  const above = p.chains.map((_, k) => k).filter((k) => k >= n - p.over);

  return (
    <div style={{ position: "absolute", left, top, width: 392, height: 438 }}>
      <ComposedChart width={392} height={438} data={rows} margin={{ top: 42, right: 45, bottom: 0, left: 0 }}>
        <CartesianGrid fill="#D9D9D9" fillOpacity={1} stroke="#EDEDED" strokeWidth={1.3} horizontalValues={minorY} verticalValues={xGrid} />
        <CartesianGrid stroke="#F4F4F4" strokeWidth={2.6} horizontalValues={majorY} verticalValues={xTicks} />
        <XAxis type="number" dataKey="x" domain={[59400, 75600]} ticks={xTicks} interval={0} height={64}
          axisLine={false} tickLine={false} tick={renderXTick} allowDataOverflow />
        <YAxis type="number" domain={p.domain} ticks={p.ticks} interval={0} width={51}
          axisLine={false} tickLine={false} tick={(props: any) => renderYTick(props, p)} allowDataOverflow />
        {under.map((k) => chainLine(p, k, 400))}
        {p.hi && (
          <Area type="linear" dataKey="band" stroke={BLUE} strokeWidth={1.5} fill={BLUE} fillOpacity={1}
            dot={false} activeDot={false} connectNulls isAnimationActive={false} zIndex={450} />
        )}
        {above.map((k) => chainLine(p, k, 460))}
      </ComposedChart>
      <svg width={365} height={42} style={{ position: "absolute", left: 0, top: 0 }}>
        <text x={199} y={29} textAnchor="middle" fontSize={28.5} fontWeight="bold" fontFamily={FONT} fill={INK}>
          {p.title}
        </text>
      </svg>
    </div>
  );
}

export default function App() {
  return (
    <div style={{ position: "absolute", left: 0, top: 0, width: 1106, height: 1733, overflow: "hidden", background: "#fff" }}>
      {panels.map((p, n) => (
        <TracePanel key={p.title} p={p} left={(n % 3) * 365} top={Math.floor(n / 3) * 438} />
      ))}
    </div>
  );
}
